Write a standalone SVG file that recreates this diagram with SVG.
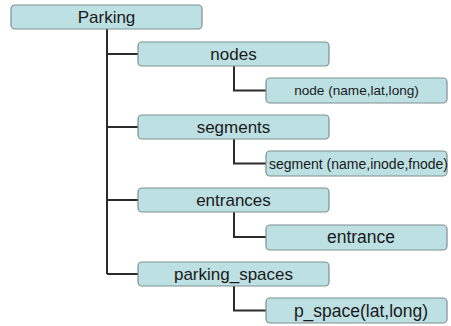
<svg xmlns="http://www.w3.org/2000/svg" width="451" height="326" viewBox="0 0 451 326">
  <style>
    .box { fill: #bde0e3; stroke: #7f8f91; stroke-width: 1.2; }
    .lbl { font-family: "Liberation Sans", Arial, sans-serif; fill: #1a1a1a; text-anchor: middle; }
    .big { font-size: 17px; }
    .small { font-size: 13.6px; }
    .seg { font-size: 14px; }
    .mid { font-size: 17.5px; }
    .wire { fill: none; stroke: #2b2b2b; stroke-width: 2; }
  </style>
  <rect width="451" height="326" fill="#ffffff"/>

  <!-- tree connectors -->
  <g id="connectors">
    <path class="wire" d="M107,29 V274"/>
    <path class="wire" d="M107,54 H138"/>
    <path class="wire" d="M107,127 H138"/>
    <path class="wire" d="M107,200 H138"/>
    <path class="wire" d="M107,274 H138"/>
    <path class="wire" d="M234,66 V90.5 H266"/>
    <path class="wire" d="M234,139 V163.5 H266"/>
    <path class="wire" d="M234,212 V237 H266"/>
    <path class="wire" d="M234,286 V310.5 H266"/>
  </g>

  <g id="parking">
    <rect class="box" x="11" y="5" width="191" height="24" rx="4"/>
    <text class="lbl big" x="106.5" y="23">Parking</text>
  </g>

  <g id="nodes">
    <rect class="box" x="138" y="42" width="191" height="24" rx="4"/>
    <text class="lbl big" x="233.5" y="60">nodes</text>
  </g>
  <g id="node">
    <rect class="box" x="266" y="78" width="181" height="25" rx="4"/>
    <text class="lbl small" x="356.5" y="95.3">node (name,lat,long)</text>
  </g>

  <g id="segments">
    <rect class="box" x="138" y="115" width="191" height="24" rx="4"/>
    <text class="lbl big" x="233.5" y="133">segments</text>
  </g>
  <g id="segment">
    <rect class="box" x="266" y="151" width="181" height="25" rx="4"/>
    <text class="lbl seg" x="358.5" y="168.5">segment (name,inode,fnode)</text>
  </g>

  <g id="entrances">
    <rect class="box" x="138" y="188" width="191" height="24" rx="4"/>
    <text class="lbl big" x="233.5" y="206">entrances</text>
  </g>
  <g id="entrance">
    <rect class="box" x="266" y="225" width="181" height="25" rx="4"/>
    <text class="lbl mid" x="361" y="243.2">entrance</text>
  </g>

  <g id="parking_spaces">
    <rect class="box" x="138" y="262" width="191" height="24" rx="4"/>
    <text class="lbl big" x="233.5" y="280">parking_spaces</text>
  </g>
  <g id="p_space">
    <rect class="box" x="266" y="298" width="181" height="25" rx="4"/>
    <text class="lbl mid" x="361" y="316.5">p_space(lat,long)</text>
  </g>
</svg>
